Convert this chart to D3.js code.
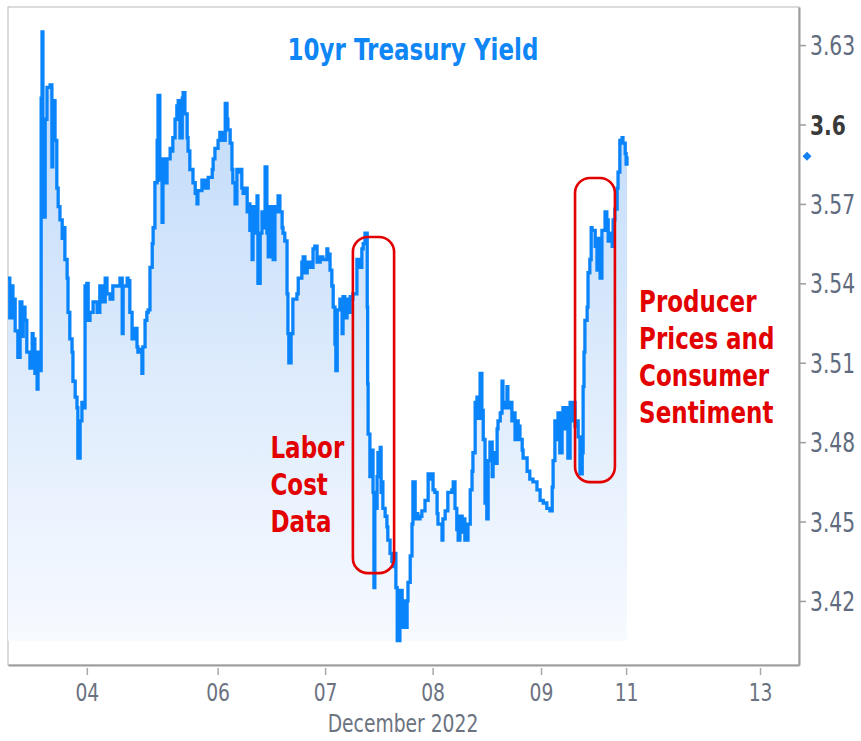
<!DOCTYPE html>
<html>
<head>
<meta charset="utf-8">
<script src="https://cdnjs.cloudflare.com/ajax/libs/d3/7.8.5/d3.min.js"></script>
<style>
  body { margin: 0; background: #fff; }
  svg { display: block; font-family: "DejaVu Sans", Verdana, sans-serif; }
</style>
</head>
<body>
<svg width="861" height="741"></svg>
<script>
// session hours since Dec 2 00:00, weekend closure removed
var hours = [0.0,0.4,0.9,1.1,1.6,2.2,2.7,3.1,3.4,3.8,4.2,4.9,5.4,5.6,6.0,6.5,6.7,7.1,7.4,7.6,7.8,8.3,8.7,9.4,9.8,10.0,
  10.5,10.9,11.2,11.6,12.1,12.3,12.7,13.2,13.4,13.8,14.3,14.5,15.0,15.4,15.6,16.1,16.5,16.7,17.2,17.6,17.9,18.3,19.0,19.9,
  20.5,21.0,21.7,22.1,22.8,23.4,24.3,25.0,25.5,25.7,26.6,26.8,27.2,27.7,28.4,28.8,29.0,29.5,29.9,30.1,30.6,31.0,31.3,31.7,
  32.2,32.4,32.8,33.3,33.5,33.9,34.4,34.6,35.1,35.5,35.7,36.2,36.6,36.8,37.3,37.7,38.0,38.4,38.9,39.1,39.5,40.0,40.2,40.6,
  41.1,41.3,41.8,42.2,42.4,43.3,44.0,44.7,45.6,45.8,46.2,46.9,47.3,48.0,48.5,48.9,49.1,49.6,50.0,50.2,50.7,51.1,51.4,51.8,
  52.2,52.5,52.9,53.4,53.6,54.0,54.5,54.7,55.2,55.6,55.8,56.3,56.7,56.9,57.4,57.8,58.1,58.5,58.9,59.2,59.6,60.1,60.3,60.7,
  61.2,61.4,61.8,62.3,62.5,62.7,63.2,63.6,64.5,64.8,65.2,65.6,65.9,66.3,66.8,67.4,68.1,68.5,69.0,69.7,70.3,71.2,71.4,71.9,
  72.3,72.6,73.0,73.2,73.5,74.1,74.6,74.8,75.2,75.7,75.9,76.4,76.8,77.0,77.9,78.6,79.0,79.3,79.7,80.2,80.3,80.4,80.8,81.3,
  81.5,81.7,81.9,82.4,82.6,83.1,83.3,83.5,83.7,84.2,84.6,84.8,85.3,85.7,86.0,86.4,86.6,86.9,87.5,88.0,88.2,88.6,89.1,89.3,
  89.8,90.2,90.4,90.9,91.3,91.5,92.0,92.4,93.1,93.8,94.2,94.7,94.9,95.3,95.8,96.0,96.9,97.1,97.6,98.2,99.1,99.4,99.8,100.2,
  100.5,100.9,101.4,101.6,102.0,102.7,103.2,103.6,103.8,104.3,104.7,104.9,105.4,105.8,106.1,106.5,106.9,107.2,107.6,108.1,
  108.3,108.7,109.2,109.4,109.9,110.3,110.5,111.0,111.4,111.6,112.1,112.5,112.8,113.2,113.6,113.9,114.3,114.8,115.0,115.9,
  116.5,117.2,118.1,118.8,119.5,120.3,121.0,121.5,121.7,122.1,122.6,122.8,123.2,123.7,123.9,124.4,124.8,125.0,125.5,125.9,
  126.1,126.6,127.0,127.3,127.7,128.2,128.4,128.6,128.8,129.3,129.5,129.9,130.2,130.4,130.6,131.1,131.5,131.7,132.2,132.6,
  132.8,133.3,133.7,134.0,134.4,134.9,135.1,135.5,136.0,136.2,136.6,137.1,137.3,137.8,138.0,138.2];

var yields = [3.542,3.527,3.539,3.534,3.522,3.512,3.533,3.520,3.531,3.526,3.514,3.508,3.521,3.519,3.506,3.500,3.514,3.507,3.610,3.635,3.565,3.602,3.614,3.615,3.584,3.609,
  3.594,3.576,3.569,3.564,3.557,3.561,3.549,3.542,3.529,3.519,3.514,3.503,3.497,3.493,3.474,3.488,3.495,3.493,3.539,3.540,3.526,3.529,3.533,3.529,
  3.539,3.533,3.542,3.536,3.534,3.539,3.539,3.542,3.521,3.539,3.542,3.541,3.529,3.519,3.523,3.516,3.514,3.515,3.506,3.516,3.526,3.529,3.530,3.546,
  3.555,3.561,3.578,3.594,3.611,3.579,3.563,3.587,3.578,3.587,3.587,3.591,3.590,3.595,3.602,3.607,3.609,3.595,3.610,3.612,3.604,3.595,3.590,3.583,
  3.583,3.578,3.574,3.570,3.575,3.579,3.576,3.580,3.583,3.587,3.591,3.594,3.597,3.594,3.608,3.602,3.598,3.593,3.583,3.578,3.570,3.583,3.582,3.583,
  3.576,3.574,3.576,3.567,3.570,3.560,3.549,3.569,3.559,3.573,3.540,3.559,3.567,3.561,3.584,3.559,3.550,3.569,3.559,3.549,3.569,3.567,3.573,3.567,
  3.561,3.559,3.556,3.536,3.521,3.510,3.521,3.534,3.536,3.542,3.542,3.548,3.550,3.544,3.548,3.546,3.553,3.554,3.548,3.550,3.549,3.553,3.551,3.545,
  3.539,3.531,3.517,3.507,3.530,3.534,3.521,3.535,3.527,3.534,3.529,3.535,3.534,3.536,3.549,3.546,3.553,3.555,3.559,3.531,3.502,3.483,3.467,3.477,
  3.461,3.425,3.455,3.467,3.476,3.478,3.461,3.465,3.455,3.452,3.448,3.443,3.438,3.435,3.433,3.438,3.425,3.405,3.424,3.410,3.420,3.410,3.420,3.427,
  3.437,3.449,3.465,3.451,3.453,3.451,3.452,3.454,3.458,3.468,3.466,3.468,3.462,3.461,3.453,3.449,3.443,3.451,3.454,3.461,3.462,3.465,3.455,3.447,
  3.443,3.452,3.446,3.451,3.443,3.449,3.462,3.469,3.476,3.495,3.497,3.489,3.506,3.492,3.481,3.457,3.451,3.473,3.480,3.467,
  3.476,3.472,3.485,3.488,3.491,3.503,3.493,3.495,3.501,3.493,3.495,3.488,3.491,3.481,3.488,3.486,3.481,3.477,3.474,3.469,
  3.466,3.465,3.462,3.458,3.457,3.455,3.454,3.463,3.473,3.488,3.481,3.491,3.476,3.488,3.493,3.485,3.493,3.474,3.495,3.488,
  3.495,3.486,3.488,3.482,3.468,3.476,3.501,3.514,3.526,3.531,3.544,3.549,3.561,3.560,3.560,3.554,3.545,3.557,3.542,3.560,
  3.560,3.567,3.564,3.556,3.559,3.554,3.564,3.568,3.576,3.582,3.594,3.595,3.593,3.589,3.585,3.588];

var yTicks = [3.42, 3.45, 3.48, 3.51, 3.54, 3.57, 3.6, 3.63];
var dayHours = [17.6, 46.8, 70.8, 94.8, 119.0, 138.0, 167.9];
var dayLabels = ["04", "06", "07", "08", "09", "11", "13"];
var chartTitle = "10yr Treasury Yield";
var xTitle = "December 2022";

var boxes = [
  {t0: 77.0, t1: 86.2, v0: 3.4305, v1: 3.5575},
  {t0: 126.6, t1: 135.5, v0: 3.4649, v1: 3.5798}
];
var notes = [
  {t: 58.6, v: 3.474, lines: ["Labor", "Cost", "Data"]},
  {t: 140.9, v: 3.529, lines: ["Producer", "Prices and", "Consumer", "Sentiment"]}
];

var svg = d3.select("svg");
var squeeze = 0.78;   // the source text is narrow

var x = d3.scaleLinear().domain([0, 176.6]).range([8, 799]);
var y = d3.scaleLinear().domain([3.3958, 3.6444]).range([665, 7]);

var data = hours.map(function(h, i) { return {t: h, v: yields[i]}; });
var minV = d3.min(yields);

var defs = svg.append("defs");
var grad = defs.append("linearGradient")
    .attr("id", "fillGrad")
    .attr("gradientUnits", "userSpaceOnUse")
    .attr("x1", 0).attr("x2", 0)
    .attr("y1", y(d3.max(yields))).attr("y2", y(minV));
grad.append("stop").attr("offset", 0).attr("stop-color", "#bcd8f9");
grad.append("stop").attr("offset", 1).attr("stop-color", "#f7faff");

// frame
svg.append("rect")
    .attr("x", 8).attr("y", 7)
    .attr("width", 791).attr("height", 658)
    .attr("fill", "none")
    .attr("stroke", "#b8b8b8")
    .attr("stroke-width", 1);

var area = d3.area()
    .x(function(d) { return x(d.t); })
    .y0(y(minV))
    .y1(function(d) { return y(d.v); })
    .curve(d3.curveStepAfter);

var line = d3.line()
    .x(function(d) { return x(d.t); })
    .y(function(d) { return y(d.v); })
    .curve(d3.curveStepAfter);

svg.append("path")
    .datum(data)
    .attr("d", area)
    .attr("fill", "url(#fillGrad)");

svg.append("path")
    .datum(data)
    .attr("d", line)
    .attr("fill", "none")
    .attr("stroke", "#0a84fb")
    .attr("stroke-width", 3.3)
    .attr("stroke-linejoin", "miter");

// right axis
var yAxis = svg.append("g")
    .attr("transform", "translate(799,0)")
    .call(d3.axisRight(y).tickValues(yTicks).tickSize(7).tickSizeOuter(0)
      .tickFormat(d3.format(".2~f")));
yAxis.select(".domain").attr("stroke", "#9c9c9c").attr("stroke-width", 2);
yAxis.selectAll(".tick line").attr("stroke", "#9c9c9c").attr("stroke-width", 1.5);
yAxis.selectAll(".tick text")
    .attr("x", 0).attr("y", 9.5).attr("dy", null)
    .attr("transform", "translate(11,0) scale(" + squeeze + ",1)")
    .attr("font-size", 26)
    .attr("font-family", "DejaVu Sans")
    .attr("fill", function(d) { return d === 3.6 ? "#3a3a3a" : "#5f6c80"; })
    .attr("font-weight", function(d) { return d === 3.6 ? "bold" : "normal"; });

// bottom axis
var xAxis = svg.append("g")
    .attr("transform", "translate(0,665)")
    .call(d3.axisBottom(x).tickValues(dayHours).tickSize(10).tickSizeOuter(0)
      .tickFormat(function(d, i) { return dayLabels[i]; }));
xAxis.select(".domain").attr("stroke", "#9c9c9c").attr("stroke-width", 2);
xAxis.selectAll(".tick line").attr("stroke", "#a8a8a8").attr("stroke-width", 1.5).attr("y1", 3);
xAxis.selectAll(".tick text")
    .attr("x", 0).attr("y", 0).attr("dy", null)
    .attr("transform", "translate(0,36) scale(" + squeeze + ",1)")
    .attr("font-size", 24)
    .attr("font-family", "DejaVu Sans")
    .attr("fill", "#6b7280");

svg.append("text")
    .attr("transform", "translate(403,732) scale(" + squeeze + ",1)")
    .attr("text-anchor", "middle")
    .attr("font-size", 24)
    .attr("fill", "#6b7280")
    .text(xTitle);

// last value marker
svg.append("path")
    .attr("d", d3.symbol().type(d3.symbolSquare).size(40)())
    .attr("transform", "translate(807," + y(yields[yields.length - 1]) + ") rotate(45)")
    .attr("fill", "#1580f0");

// title
svg.append("text")
    .attr("transform", "translate(413,60) scale(" + squeeze + ",1)")
    .attr("text-anchor", "middle")
    .attr("font-size", 29.5)
    .attr("font-weight", "bold")
    .attr("fill", "#0f86f5")
    .text(chartTitle);

// annotations
svg.selectAll(".box")
    .data(boxes)
    .enter().append("rect")
    .attr("class", "box")
    .attr("x", function(d) { return x(d.t0); })
    .attr("y", function(d) { return y(d.v1); })
    .attr("width", function(d) { return x(d.t1) - x(d.t0); })
    .attr("height", function(d) { return y(d.v0) - y(d.v1); })
    .attr("rx", 15).attr("ry", 15)
    .attr("fill", "none")
    .attr("stroke", "#e20000")
    .attr("stroke-width", 2.6);

notes.forEach(function(n) {
  var g = svg.append("g");
  n.lines.forEach(function(s, i) {
    g.append("text")
        .attr("transform", "translate(" + x(n.t) + "," + (y(n.v) + i * 37) + ") scale(" + squeeze + ",1)")
        .attr("font-size", 29.5)
        .attr("font-weight", "bold")
        .attr("fill", "#e20000")
        .text(s);
  });
});
</script>
</body>
</html>
